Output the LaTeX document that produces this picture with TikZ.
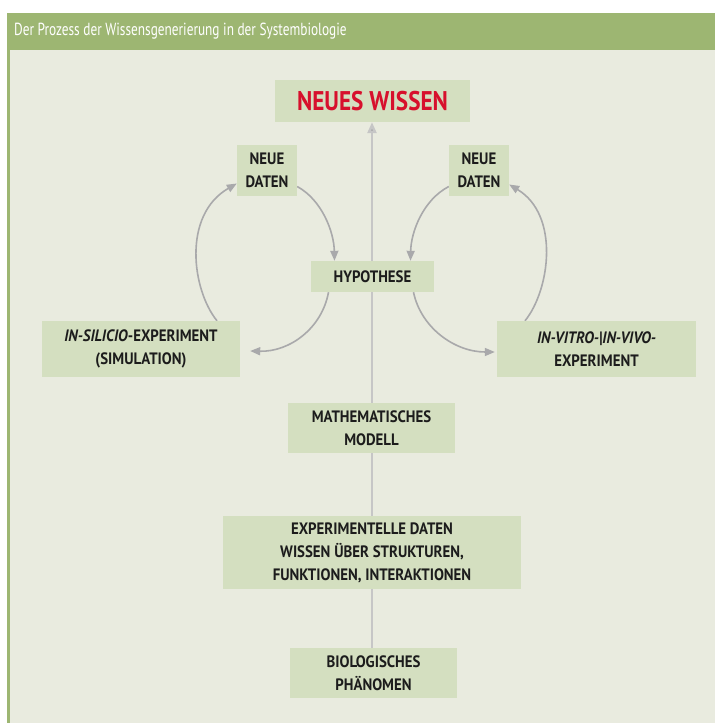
\documentclass[tikz,border=0pt]{standalone}
\usepackage{fontspec}
\setmainfont{PT Sans}[FakeStretch=0.9]
\newfontfamily\titlefont{PT Sans}[FakeStretch=0.76]
\newfontfamily\headfont{PT Sans}[FakeStretch=0.86]
\usetikzlibrary{arrows.meta}

\definecolor{hdrgreen}{HTML}{9DB672}
\definecolor{panelbg}{HTML}{E9EBDF}
\definecolor{boxgreen}{HTML}{D4DFC0}
\definecolor{textdark}{HTML}{1C1C1C}
\definecolor{wissenred}{HTML}{D7102C}
\definecolor{stemgray}{HTML}{C6C6C6}
\definecolor{loopgray}{HTML}{A9A9AB}

\pgfdeclarelayer{bg}
\pgfdeclarelayer{lines}
\pgfsetlayers{bg,lines,main}

\begin{document}
\begin{tikzpicture}[x=1pt,y=-1pt,
  box/.style={fill=boxgreen, inner sep=0pt, align=center, text=textdark,
    font=\fontsize{16.5}{23}\selectfont\bfseries},
  stem/.style={draw=stemgray, line width=2.4pt,
    -{Triangle[length=11pt,width=9pt,fill=loopgray]}},
  loop/.style={draw=loopgray, line width=1.6pt,
    -{Triangle[length=10pt,width=8pt]}, color=loopgray}
]
\useasboundingbox (0,0) rectangle (715,723);

% frame: header bar, left rule and panel
\begin{pgfonlayer}{bg}
  \fill[white] (0,0) rectangle (715,723);
  \fill[panelbg] (7,50) rectangle (715,723);
  \fill[hdrgreen] (7,13) rectangle (715,50);
  \fill[hdrgreen] (7,50) rectangle (10,723);
\end{pgfonlayer}
\node[anchor=west, text=white, inner sep=0pt,
  font=\titlefont\fontsize{17.5}{20}\selectfont] (title) at (14,31)
  {Der Prozess der Wissensgenerierung in der Systembiologie};

% boxes
\node[box, minimum width=195pt, minimum height=42pt, text=wissenred,
  font=\headfont\fontsize{27}{28}\selectfont\bfseries] (wissen) at (372.5,101) {NEUES WISSEN};
\node[box, minimum width=60pt, minimum height=51pt] (daL) at (267,170.5) {NEUE\\DATEN};
\node[box, minimum width=60pt, minimum height=51pt] (daR) at (479,170.5) {NEUE\\DATEN};
\node[box, minimum width=123pt, minimum height=31pt] (hyp) at (372.5,276.5) {HYPOTHESE};
\node[box, minimum width=198pt, minimum height=56pt] (sil) at (141,349)
  {\textit{IN-SILICIO}-EXPERIMENT\\(SIMULATION)};
\node[box, minimum width=199pt, minimum height=56pt] (vit) at (596.5,349)
  {\textit{IN-VITRO-|IN-VIVO-}\\EXPERIMENT};
\node[box, minimum width=167pt, minimum height=50pt] (mod) at (371.5,428)
  {MATHEMATISCHES\\MODELL};
\node[box, minimum width=298pt, minimum height=73pt] (exp) at (372,552.5)
  {EXPERIMENTELLE DATEN\\WISSEN ÜBER STRUKTUREN,\\FUNKTIONEN, INTERAKTIONEN};
\node[box, minimum width=167pt, minimum height=50pt] (bio) at (373.5,673)
  {BIOLOGISCHES\\PHÄNOMEN};

% connectors
\begin{pgfonlayer}{lines}
  \draw[stem] (bio.north -| 372,0) -- (wissen.south -| 372,0);

  % left cycle
  \draw[loop] ([yshift=-16pt]daL.east) .. controls (322,200) and (334,232) ..
    ([xshift=-38pt]hyp.north);
  \draw[loop] ([xshift=-44pt]hyp.south) .. controls (322,328) and (290,352) ..
    ([xshift=10pt,yshift=-2pt]sil.east);
  \draw[loop] ([xshift=76pt]sil.north) .. controls (192,290) and (182,215) ..
    ([yshift=-13pt]daL.west);

  % right cycle
  \draw[loop] ([yshift=-16pt]daR.west) .. controls (423,200) and (411,232) ..
    ([xshift=38pt]hyp.north);
  \draw[loop] ([xshift=41pt]hyp.south) .. controls (421,328) and (455,352) ..
    ([xshift=-2pt,yshift=-3pt]vit.west);
  \draw[loop] ([xshift=-71.5pt]vit.north) .. controls (550,290) and (560,215) ..
    ([yshift=-14pt]daR.east);
\end{pgfonlayer}
\end{tikzpicture}
\end{document}
